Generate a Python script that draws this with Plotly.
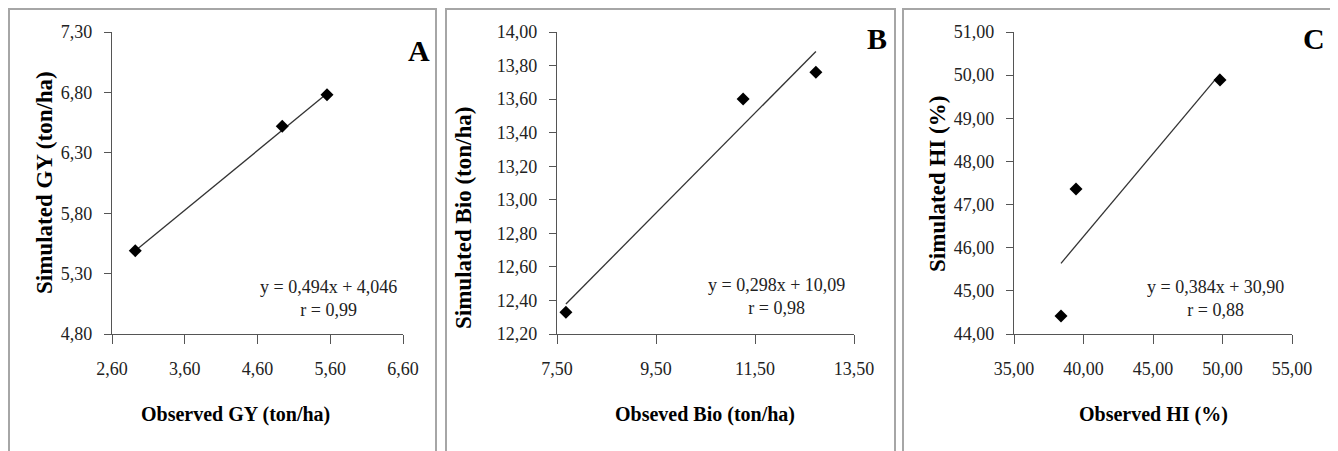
import plotly.graph_objects as go

# ---------------- data ----------------
obs_gy = [2.92, 4.94, 5.555]
sim_gy = [5.49, 6.52, 6.78]
obs_bio = [7.68, 11.26, 12.73]
sim_bio = [12.33, 13.60, 13.76]
obs_hi = [38.38, 39.46, 49.82]
sim_hi = [44.42, 47.36, 49.89]

slopes = [0.494, 0.298, 0.384]
intercepts = [4.046, 10.09, 30.90]
eq_texts = ["y = 0,494x + 4,046<br>r = 0,99",
            "y = 0,298x + 10,09<br>r = 0,98",
            "y = 0,384x + 30,90<br>r = 0,88"]
panel_letters = ["A", "B", "C"]
x_titles = ["Observed GY (ton/ha)", "Obseved Bio (ton/ha)", "Observed HI (%)"]
y_titles = ["Simulated GY (ton/ha)", "Simulated Bio (ton/ha)", "Simulated HI (%)"]

x_ranges = [[2.60, 6.60], [7.50, 13.50], [35.0, 55.0]]
x_dticks = [1.0, 2.0, 5.0]
y_ranges = [[4.80, 7.30], [12.20, 14.00], [44.0, 51.0]]
y_dticks = [0.5, 0.2, 1.0]

# the page body has an 8px margin, so the figure is drawn from (8, 8)
OFF = 8
W, H = 1338 - OFF, 451 - OFF
FONT = "Liberation Serif"


def fx(p):
    return (p - OFF) / W


def fy(p):
    return 1 - (p - OFF) / H


# pixel layout of panels (screen coordinates)
plot_x = [(112, 403), (557, 854), (1014, 1292)]
plot_y = (32, 334)
frames = [(9, 436), (446, 895), (903, 1331)]
letter_pos = [(419, 50), (877, 39), (1314, 39)]
eq_pos = [(328, 298), (776, 296), (1215, 298)]
xt_pos = [(235, 414), (705, 414), (1153, 414)]
yt_pos = [(44, 183), (463, 218), (937, 184)]

fig = go.Figure()
datasets = [(obs_gy, sim_gy), (obs_bio, sim_bio), (obs_hi, sim_hi)]

shapes = []
annotations = []
for i, (xs, ys) in enumerate(datasets):
    n = "" if i == 0 else str(i + 1)
    xa, ya = "x" + n, "y" + n
    x0, x1 = min(xs), max(xs)
    fig.add_trace(go.Scatter(
        x=[x0, x1], y=[slopes[i] * x0 + intercepts[i], slopes[i] * x1 + intercepts[i]],
        mode="lines", line=dict(color="#333333", width=1.3),
        xaxis=xa, yaxis=ya, showlegend=False, hoverinfo="skip"))
    fig.add_trace(go.Scatter(
        x=xs, y=ys, mode="markers",
        marker=dict(symbol="diamond", size=10, color="black"),
        xaxis=xa, yaxis=ya, showlegend=False))

    axis_common = dict(showline=True, linecolor="#555555", linewidth=1.3,
                       showgrid=False, zeroline=False, ticks="outside",
                       tickcolor="#555555", tickwidth=1.3, tickformat=".2f",
                       automargin=False,
                       tickfont=dict(family=FONT, size=18, color="#222222"))
    fig.layout["xaxis" + n] = dict(
        axis_common, domain=[fx(plot_x[i][0]), fx(plot_x[i][1])],
        range=x_ranges[i], dtick=x_dticks[i], tick0=x_ranges[i][0],
        anchor=ya, ticklen=9, ticklabelstandoff=9)
    fig.layout["yaxis" + n] = dict(
        axis_common, domain=[fy(plot_y[1]), fy(plot_y[0])],
        range=y_ranges[i], dtick=y_dticks[i], tick0=y_ranges[i][0],
        anchor=xa, ticklen=7, ticklabelstandoff=8)

    shapes.append(dict(type="rect", xref="paper", yref="paper",
                       x0=fx(frames[i][0]), x1=fx(frames[i][1]),
                       y0=fy(470), y1=fy(9),
                       line=dict(color="#a6a6a6", width=2)))
    annotations.append(dict(xref="paper", yref="paper",
                            x=fx(letter_pos[i][0]), y=fy(letter_pos[i][1]),
                            text="<b>%s</b>" % panel_letters[i], showarrow=False,
                            font=dict(family=FONT, size=30, color="black"),
                            xanchor="center", yanchor="middle"))
    annotations.append(dict(xref="paper", yref="paper",
                            x=fx(eq_pos[i][0]), y=fy(eq_pos[i][1]),
                            text=eq_texts[i], showarrow=False, align="center",
                            font=dict(family=FONT, size=18, color="#222222"),
                            xanchor="center", yanchor="middle"))
    annotations.append(dict(xref="paper", yref="paper",
                            x=fx(xt_pos[i][0]), y=fy(xt_pos[i][1]),
                            text="<b>%s</b>" % x_titles[i], showarrow=False,
                            font=dict(family=FONT, size=20, color="black"),
                            xanchor="center", yanchor="middle"))
    annotations.append(dict(xref="paper", yref="paper",
                            x=fx(yt_pos[i][0]), y=fy(yt_pos[i][1]),
                            text="<b>%s</b>" % y_titles[i], showarrow=False,
                            textangle=-90,
                            font=dict(family=FONT, size=23, color="black"),
                            xanchor="center", yanchor="middle"))

# small dark mark at the lower right corner of the page
shapes.append(dict(type="rect", xref="paper", yref="paper",
                   x0=fx(1331), x1=fx(1337.5), y0=fy(450.5), y1=fy(435),
                   fillcolor="black", line=dict(width=0)))

fig.update_layout(
    width=W, height=H, margin=dict(l=0, r=0, t=0, b=0, autoexpand=False),
    paper_bgcolor="white", plot_bgcolor="white",
    separators=", ", shapes=shapes, annotations=annotations,
    font=dict(family=FONT),
)

fig.write_html("out.html")
